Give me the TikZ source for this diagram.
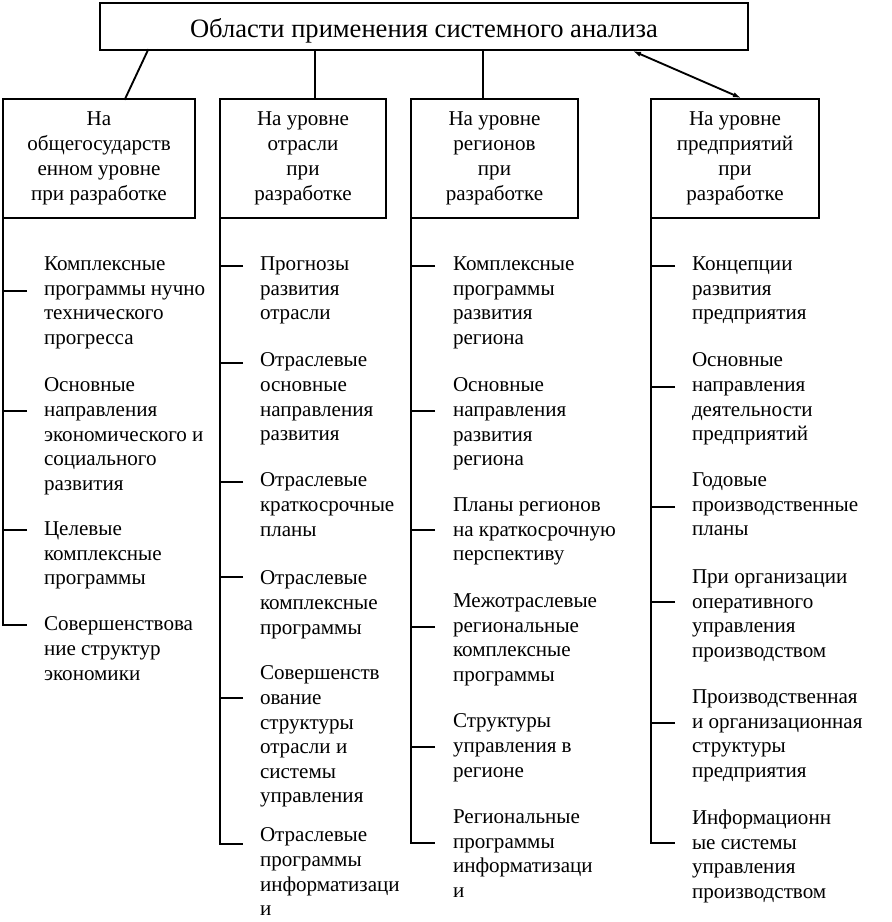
\documentclass[tikz,border=0pt]{standalone}
\usepackage{fontspec}
\setmainfont{Liberation Serif}
\usetikzlibrary{arrows.meta}
\begin{document}
\begin{tikzpicture}[x=0.75pt,y=-0.75pt,
  every node/.style={inner sep=0pt, outer sep=0pt},
  ln/.style={line width=1.4pt, line cap=rect},
  hdr/.style={draw, line width=1.4pt, align=center, minimum height=89.25pt,
    font=\fontsize{15.8pt}{18.9pt}\selectfont},
  item/.style={anchor=north west, align=left, yshift=-3.75pt,
    font=\fontsize{15.8pt}{18.4pt}\selectfont, execute at begin node=\strut},
]
\useasboundingbox (0,0) rectangle (892,922);

% title
\node[draw, line width=1.4pt, minimum width=486pt, minimum height=35.25pt,
  font=\fontsize{19.9pt}{24pt}\selectfont, text height=16pt, text depth=0pt]
  (top) at (424,26.5) {Области применения системного анализа};

% header boxes
\node[hdr, minimum width=144pt]    (b1) at (99,158.5)    {На\\общегосударств\\енном уровне\\при разработке};
\node[hdr, minimum width=124.5pt]  (b2) at (303,158.5)   {На уровне\\отрасли\\при\\разработке};
\node[hdr, minimum width=125.25pt] (b3) at (494.5,158.5) {На уровне\\регионов\\при\\разработке};
\node[hdr, minimum width=126pt]    (b4) at (735,158.5)   {На уровне\\предприятий\\при\\разработке};

% connectors from title
\coordinate (a1) at (148,50);  \coordinate (e1) at (125,99);
\coordinate (a2) at (315,50);  \coordinate (e2) at (315,99);
\coordinate (a3) at (483,50);  \coordinate (e3) at (483,99);
\coordinate (a4) at (633,51);  \coordinate (e4) at (741,98);
\draw[ln] (a1) -- (e1);
\draw[ln] (a2) -- (e2);
\draw[ln] (a3) -- (e3);
\draw[line width=1.4pt, {Latex[length=6pt,width=4pt]}-{Latex[length=6pt,width=4pt]}] (a4) -- (e4);

% tick ends
\coordinate (t11) at (27,291);  \coordinate (t12) at (27,411);
\coordinate (t13) at (27,530);  \coordinate (t14) at (27,625);
\coordinate (t21) at (243,266); \coordinate (t22) at (243,363);
\coordinate (t23) at (243,482); \coordinate (t24) at (243,577);
\coordinate (t25) at (243,698); \coordinate (t26) at (243,844);
\coordinate (t31) at (435,266); \coordinate (t32) at (435,411);
\coordinate (t33) at (435,530); \coordinate (t34) at (435,627);
\coordinate (t35) at (435,747); \coordinate (t36) at (435,843);
\coordinate (t41) at (675,266); \coordinate (t42) at (675,387);
\coordinate (t43) at (675,507); \coordinate (t44) at (675,602);
\coordinate (t45) at (675,723); \coordinate (t46) at (675,843);

% spines
\draw[line width=1.4pt] (b1.south west) |- (t14);
\draw[line width=1.4pt] (b2.south west) |- (t26);
\draw[line width=1.4pt] (b3.south west) |- (t36);
\draw[line width=1.4pt] (b4.south west) |- (t46);
\foreach \t in {t11,t12,t13}{\draw[line width=1.4pt] (\t) -- (\t -| b1.south west);}
\foreach \t in {t21,t22,t23,t24,t25}{\draw[line width=1.4pt] (\t) -- (\t -| b2.south west);}
\foreach \t in {t31,t32,t33,t34,t35}{\draw[line width=1.4pt] (\t) -- (\t -| b3.south west);}
\foreach \t in {t41,t42,t43,t44,t45}{\draw[line width=1.4pt] (\t) -- (\t -| b4.south west);}

% column 1
\node[item] (i11) at (44,252) {Комплексные\\программы нучно\\технического\\прогресса};
\node[item] (i12) at (44,373) {Основные\\направления\\экономического и\\социального\\развития};
\node[item] (i13) at (44,517) {Целевые\\комплексные\\программы};
\node[item] (i14) at (44,612) {Совершенствова\\ние структур\\экономики};

% column 2
\node[item] (i21) at (260,252) {Прогнозы\\развития\\отрасли};
\node[item] (i22) at (260,348) {Отраслевые\\основные\\направления\\развития};
\node[item] (i23) at (260,468) {Отраслевые\\краткосрочные\\планы};
\node[item] (i24) at (260,566) {Отраслевые\\комплексные\\программы};
\node[item] (i25) at (260,661) {Совершенств\\ование\\структуры\\отрасли и\\системы\\управления};
\node[item] (i26) at (260,823) {Отраслевые\\программы\\информатизаци\\и};

% column 3
\node[item] (i31) at (453,252) {Комплексные\\программы\\развития\\региона};
\node[item] (i32) at (453,373) {Основные\\направления\\развития\\региона};
\node[item] (i33) at (453,493) {Планы регионов\\на краткосрочную\\перспективу};
\node[item] (i34) at (453,589) {Межотраслевые\\региональные\\комплексные\\программы};
\node[item] (i35) at (453,709) {Структуры\\управления в\\регионе};
\node[item] (i36) at (453,805) {Региональные\\программы\\информатизаци\\и};

% column 4
\node[item] (i41) at (692,252) {Концепции\\развития\\предприятия};
\node[item] (i42) at (692,348) {Основные\\направления\\деятельности\\предприятий};
\node[item] (i43) at (692,468) {Годовые\\производственные\\планы};
\node[item] (i44) at (692,565) {При организации\\оперативного\\управления\\производством};
\node[item] (i45) at (692,685) {Производственная\\и организационная\\структуры\\предприятия};
\node[item] (i46) at (692,805) {Информационн\\ые системы\\управления\\производством};
\end{tikzpicture}
\end{document}
